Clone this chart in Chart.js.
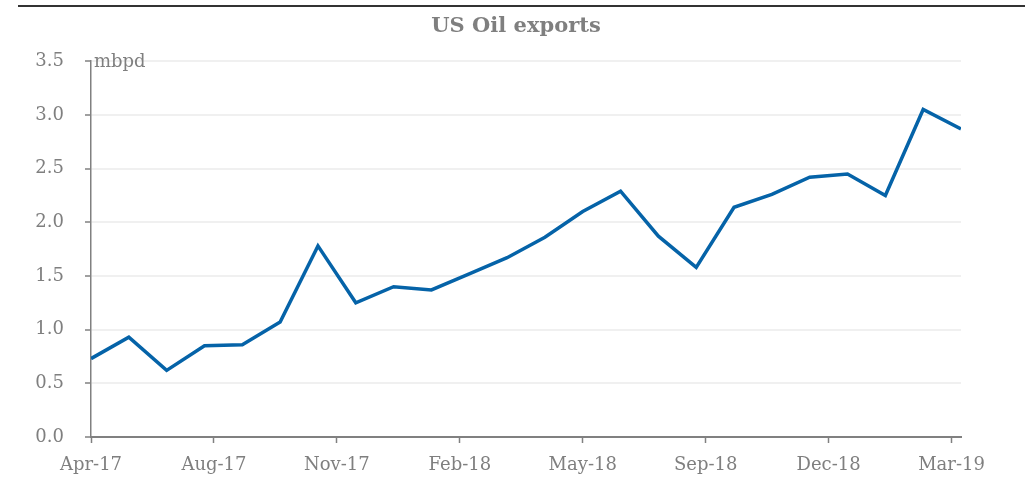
<!DOCTYPE html>
<html>
<head>
<meta charset="utf-8">
<script src="https://cdn.jsdelivr.net/npm/chart.js@4.4.1/dist/chart.umd.min.js"></script>
<style>
    html, body { margin: 0; padding: 0; background: #ffffff; }
    #wrap { width: 1025px; height: 480px; }
</style>
</head>
<body>
<div id="wrap"><canvas id="oilChart" width="1025" height="480"></canvas></div>
<script>
// monthly US crude exports, mbpd
var months = ['Apr-17', 'May-17', 'Jun-17', 'Jul-17', 'Aug-17', 'Sep-17', 'Oct-17', 'Nov-17',
    'Dec-17', 'Jan-18', 'Feb-18', 'Mar-18', 'Apr-18', 'May-18', 'Jun-18', 'Jul-18',
    'Aug-18', 'Sep-18', 'Oct-18', 'Nov-18', 'Dec-18', 'Jan-19', 'Feb-19', 'Mar-19'];
var exportsMbpd = [0.73, 0.93, 0.62, 0.85, 0.86, 1.07, 1.78, 1.25,
    1.40, 1.37, 1.52, 1.67, 1.86, 2.10, 2.29, 1.87,
    1.58, 2.14, 2.26, 2.42, 2.45, 2.25, 3.05, 2.87];

// date-axis ticks (in months from Apr-17) and their labels
var tickPositions = [0, 3.25, 6.5, 9.75, 13, 16.25, 19.5, 22.75];
var tickLabels = ['Apr-17', 'Aug-17', 'Nov-17', 'Feb-18', 'May-18', 'Sep-18', 'Dec-18', 'Mar-19'];

var points = exportsMbpd.map(function (v, i) {
    return { x: i, y: v };
});

var grey = '#7f7f7f';
var serif = 'DejaVu Serif';

var decorations = {
    id: 'decorations',
    beforeDraw: function (chart) {
        var ctx = chart.ctx;
        ctx.save();
        ctx.strokeStyle = '#333333';
        ctx.lineWidth = 2;
        ctx.beginPath();
        ctx.moveTo(18, 6);
        ctx.lineTo(chart.width, 6);
        ctx.stroke();
        ctx.restore();
    },
    afterDraw: function (chart) {
        var ctx = chart.ctx;
        var y = chart.scales.y;
        ctx.save();
        ctx.fillStyle = grey;
        ctx.font = '18px "' + serif + '"';
        ctx.textAlign = 'left';
        ctx.textBaseline = 'alphabetic';
        ctx.fillText('mbpd', chart.chartArea.left + 3, y.getPixelForValue(3.5) + 6);
        ctx.restore();
    }
};

new Chart(document.getElementById('oilChart'), {
    type: 'line',
    data: {
        datasets: [{
            label: 'US Oil exports',
            data: points,
            borderColor: '#0563a8',
            borderWidth: 3.5,
            pointRadius: 0,
            tension: 0,
            fill: false
        }]
    },
    options: {
        responsive: false,
        animation: false,
        layout: { padding: { left: 7, right: 0, top: 0, bottom: 0 } },
        plugins: {
            legend: { display: false },
            tooltip: { enabled: false },
            title: {
                display: true,
                text: 'US Oil exports',
                color: grey,
                font: { family: serif, size: 21, weight: 'bold' },
                padding: { top: 14, bottom: 22 }
            }
        },
        scales: {
            x: {
                type: 'linear',
                min: 0,
                max: months.length - 1,
                afterBuildTicks: function (scale) {
                    scale.ticks = tickPositions.map(function (v) { return { value: v }; });
                },
                afterFit: function (scale) { scale.height = 43; },
                ticks: {
                    color: grey,
                    font: { family: serif, size: 18 },
                    padding: 12,
                    maxRotation: 0,
                    autoSkip: false,
                    callback: function (value, index) { return tickLabels[index]; }
                },
                grid: {
                    drawOnChartArea: false,
                    drawTicks: true,
                    tickLength: 6,
                    tickWidth: 1.5,
                    tickColor: '#808080'
                },
                border: { display: true, color: '#808080', width: 2 }
            },
            y: {
                min: 0,
                max: 3.5,
                afterFit: function (scale) { scale.width = 84; },
                ticks: {
                    stepSize: 0.5,
                    color: grey,
                    font: { family: serif, size: 18 },
                    padding: 21,
                    callback: function (value) { return value.toFixed(1); }
                },
                grid: {
                    color: '#f0f0f0',
                    lineWidth: 2,
                    tickLength: 6,
                    tickColor: '#808080',
                    tickWidth: 1.5
                },
                border: { display: true, color: '#808080', width: 1.5 }
            },
            // empty right-hand margin
            yRight: {
                position: 'right',
                min: 0,
                max: 3.5,
                afterFit: function (scale) { scale.width = 64; },
                ticks: { display: false },
                grid: { display: false },
                border: { display: false }
            }
        }
    },
    plugins: [decorations]
});
</script>
</body>
</html>
